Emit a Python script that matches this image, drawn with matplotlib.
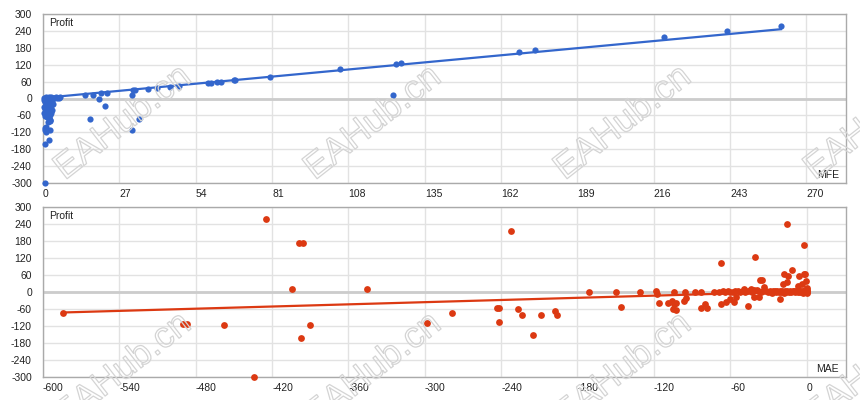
import matplotlib
matplotlib.use('Agg')
import matplotlib.pyplot as plt
import matplotlib.patheffects as pe
import matplotlib.transforms as mtransforms
import numpy as np

plt.rcParams['font.family'] = ['Liberation Sans', 'DejaVu Sans']
plt.rcParams['axes.unicode_minus'] = False

# ---------------- data ----------------
mfe_values = [261, 242, 219.8, 173.9, 168.4, 126.7, 125, 123.8, 105.2, 80.2,
              68, 67.5, 63.1, 61.6, 59.5, 58.3, 48.2, 44.8, 40.4, 37.1,
              32.4, 32, 31.5, 31.5, 34, 22.8, 20.6, 19.8, 21.9, 17.6, 15, 16.5,
              0.5, 1, 1.5, 2, 2.5, 3, 3.5, 4, 4.5, 5, 5.5, 6, 1.2, 2.2, 3.2,
              0.3, 0.6, 0.9, 1.2, 1.5, 1.8, 2.1, 2.4, 0.4, 0.8, 1.3, 1.7, 2.2,
              2.8, 3.0, 0.5, 1.0, 1.6, 2.3, 2.9, 0.7, 1.4, 2.0, 2.6, 1.9, 3.3,
              3.5, 3.2, 2.7, 2.3, 2.5,
              0.6, 0.8, 1.0, 1.1, 2.6, 0.8, 2.2, 0.8]
mfe_profit = [258, 239, 218, 172, 166, 125, 123, 11, 103, 77,
              67, 65, 59, 58, 56, 55, 45, 41, 38, 34,
              30, 29, 12, -112, -72, 20, 18, -2, -28, 14, 12, -72,
              1, 2, 0, 3, 1, 4, 2, 3, 4, 2, 3, 4, 4, 5, 3,
              -5, -12, -20, -8, -15, -25, -10, -18, -30, -38, -33, -42, -36,
              -28, -45, -50, -55, -48, -58, -52, -62, -66, -70, -78, -82, -40,
              -20, -8, -5, -77, -80,
              -104, -112, -119, -102, -111, -161, -148, -299]

mae_values = [-584, -490, -487, -458, -434, -425, -404, -398.6, -396, -397,
              -390, -345.6, -298.3, -278.6, -243.5, -241.6, -241.6, -232.4,
              -226.7, -223.5, -214.9, -208.3, -198, -196.2, -171, -150, -146,
              -131, -118, -117.4, -116, -109, -105.6, -104, -102.2, -104.8,
              -102.7, -104.3, -96.4, -95.1, -95.6, -87.8, -83.3, -83, -79.7,
              -78.6, -72.7, -68.8, -67.3, -67.3, -63, -60, -57, -55.5, -46.3,
              -40.6, -41, -41, -39, -37.7, -36.7, -35.4, -33.5, -20.7, -18.3,
              -17.5, -15.7, -14.4, -15.2, -11.3, -6.8, -5.8, -3.2, -2.2, -1.3,
              -0.8, -2.1, 0, 0, 0,
              -66, -64, -62, -60, -58, -56, -54, -52, -50, -48, -46, -44, -43,
              -38, -36, -34, -32, -30, -29, -28, -27, -26, -25, -24, -23, -22,
              -21, -20, -19, -18, -17, -16, -15, -14, -13, -12, -11, -10, -9,
              -8, -7, -6, -5, -4, -3, -2, -1, 0, -1.5, -0.5, 0, -3, -49, -44]
mae_profit = [-73, -112, -112, -118, -299, 257, 11, 172, 172, -161,
              -115, 9.5, -109, -75, -56, -56, -106, 215,
              -59, -80, -150, -80, -66, -80, 0, 0, -53,
              0, 2, -6, -38, -40, -32, -42, -39, -59,
              -63, 0, -32, -21, 0, 0, 0, -55, -42,
              -56, 0, 0, 102, -42, -36, -25, -36, -18, -50,
              122, 8, -18, 8, -18, 44, 44, 18, -24, 30,
              65, 36, 56, 239, 77, 20, 57, 30, 63, 65,
              39, 165, 15, 6, 0,
              2, 0, 3, 1, 0, 4, 2, 0, 3, 1, 5, 2, 0,
              3, 0, 2, 4, 0, 3, 1, -3, 2, 5, 0, 3, 1,
              4, 0, 2, -2, 3, 0, 5, 1, 3, 0, 2, 4, 0,
              3, 1, 5, 0, 2, 4, 1, 3, 2, 8, 0, -3, -4, 12, 10]

# trendlines (slope, intercept)
mfe_trend = (0.935, 2.0)
mae_trend = (0.128, 2.5)

profit_ticks = [300, 240, 180, 120, 60, 0, -60, -120, -180, -240, -300]
mfe_ticks = [0, 27, 54, 81, 108, 135, 162, 189, 216, 243, 270]
mae_ticks = [-600, -540, -480, -420, -360, -300, -240, -180, -120, -60, 0]

blue = '#3366cc'
red = '#dc3912'
txt = '#222222'

fig = plt.figure(figsize=(8.6, 4.0), dpi=100)
W, H = 860.0, 400.0
ax1 = fig.add_axes([43 / W, 1 - 183 / H, (846 - 43) / W, (183 - 14) / H])
ax2 = fig.add_axes([43 / W, 1 - 377 / H, (846 - 43) / W, (377 - 207) / H])


def style(ax, xticks, xlim, ylabel_txt, xlabel_txt):
    ax.set_xlim(*xlim)
    ax.set_ylim(-300, 300)
    ax.set_yticks(profit_ticks)
    ax.set_yticklabels([str(v) for v in profit_ticks])
    ax.set_xticks(xticks)
    ax.set_xticklabels([str(v) for v in xticks], ha='left')
    off = mtransforms.ScaledTranslation(1.5 / 72, 0, fig.dpi_scale_trans)
    for lab in ax.get_xticklabels():
        lab.set_transform(lab.get_transform() + off)
    ax.tick_params(axis='both', length=0, labelsize=7.5, colors=txt)
    ax.tick_params(axis='x', pad=4)
    ax.tick_params(axis='y', pad=8)
    ax.grid(True, color='#e2e2e2', lw=1)
    ax.set_axisbelow(True)
    ax.axhline(0, color='#cccccc', lw=2, zorder=1)
    for s in ax.spines.values():
        s.set_color('#aaaaaa')
        s.set_linewidth(1)
    ax.text(6 / 803, 1 - 9 / 169, ylabel_txt, transform=ax.transAxes,
            ha='left', va='center', fontsize=7.5, color=txt)
    ax.text(1 - 7 / 803, 8 / 169, xlabel_txt, transform=ax.transAxes,
            ha='right', va='center', fontsize=7.5, color=txt)


style(ax1, mfe_ticks, (0, 284), 'Profit', 'MFE')
style(ax2, mae_ticks, (-600, 31), 'Profit', 'MAE')

ax1.scatter(mfe_values, mfe_profit, s=20, color=blue, lw=0, zorder=4, clip_on=False)
xs = np.array([min(mfe_values), max(mfe_values)])
ax1.plot(xs, mfe_trend[0] * xs + mfe_trend[1], color=blue, lw=1.6, zorder=3)

ax2.scatter(mae_values, mae_profit, s=24, color=red, lw=0, zorder=4, clip_on=False)
xs2 = np.array([min(mae_values), max(mae_values)])
ax2.plot(xs2, mae_trend[0] * xs2 + mae_trend[1], color=red, lw=1.6, zorder=3)

# watermark
for cy in (123, 370):
    for cx in (123, 373, 623, 873):
        fig.text(cx / W, 1 - cy / H, 'EAHub.cn', rotation=38, fontsize=26,
                 ha='center', va='center', rotation_mode='anchor',
                 color=(1, 1, 1, 0), zorder=10,
                 path_effects=[pe.withStroke(linewidth=0.9, foreground='#d4d4d4')])

fig.savefig('out.png', dpi=100)
